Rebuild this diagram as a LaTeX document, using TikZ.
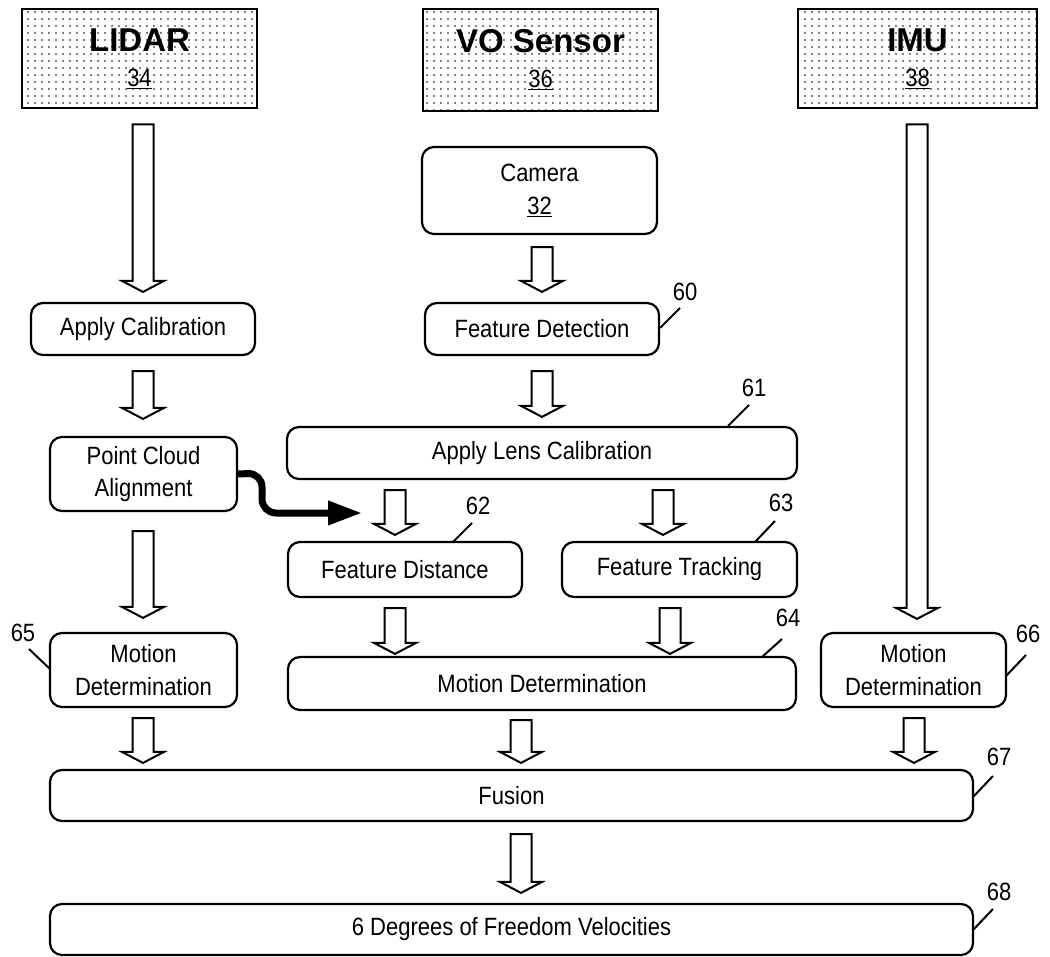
\documentclass[tikz,border=0pt]{standalone}
\usepackage{fontspec}
\setmainfont{Liberation Sans}[FakeStretch=0.88]
\newfontfamily\titlefont{Liberation Sans}
\usetikzlibrary{calc,arrows.meta,patterns.meta}
\newcommand\barrow[5]{%
  \coordinate (bcol) at (#1,0);
  \coordinate (ba1) at ($(#2.south -| bcol)+(0,#3)$);
  \coordinate (ba2) at ($(#4.north -| bcol)+(0,-#5)$);
  \draw[blockarrow] ($(ba1)+(-10.5,0)$) -- ($(ba1)+(10.5,0)$) -- ($(ba2)+(10.5,-11)$) -- ($(ba2)+(21,-11)$) -- (ba2) -- ($(ba2)+(-21,-11)$) -- ($(ba2)+(-10.5,-11)$) -- cycle;}
\begin{document}
\begin{tikzpicture}[x=1pt,y=-1pt,
  box/.style={draw,line width=2.2pt,rounded corners=12pt,inner sep=0pt,align=center,font=\fontsize{25}{32.5}\selectfont},
  sensor/.style={draw,line width=2.8pt,inner sep=0pt,align=center,pattern={Dots[distance=7pt,radius=0.8pt]},font=\fontsize{25}{35}\selectfont},
  blockarrow/.style={draw,line width=2pt,fill=white,line join=miter},
  lbl/.style={font=\fontsize{25}{30}\selectfont,inner sep=0pt},
  leader/.style={line width=2pt},
  ]
\useasboundingbox (0,0) rectangle (1050,957);

% sensors
\node[sensor,minimum width=235pt,minimum height=99pt] (lidar) at (139.5,58.5) {{\titlefont\bfseries\fontsize{33}{34}\selectfont LIDAR}\\\underline{34}};
\node[sensor,minimum width=235pt,minimum height=102pt] (vo) at (540.5,60) {{\titlefont\bfseries\fontsize{33}{34}\selectfont VO Sensor}\\\underline{36}};
\node[sensor,minimum width=239pt,minimum height=99pt] (imu) at (917.5,58.5) {{\titlefont\bfseries\fontsize{33}{34}\selectfont IMU}\\\underline{38}};

% boxes
\node[box,minimum width=235pt,minimum height=87pt] (camera) at (539.5,190.5) {Camera\\\underline{32}};
\node[box,minimum width=224pt,minimum height=52pt] (ac) at (143,329) {Apply Calibration};
\node[box,minimum width=234pt,minimum height=52pt] (fd) at (542,329) {Feature Detection};
\node[box,minimum width=187pt,minimum height=74pt] (pca) at (143.5,474) {Point Cloud\\Alignment};
\node[box,minimum width=510pt,minimum height=52pt] (alc) at (542,453) {Apply Lens Calibration};
\node[box,minimum width=234pt,minimum height=55pt] (fdist) at (405,569.5) {Feature Distance};
\node[box,minimum width=235pt,minimum height=55pt] (ftrack) at (679.5,569.5) {Feature Tracking};
\node[box,minimum width=187pt,minimum height=74pt] (md65) at (143.5,670) {Motion\\Determination};
\node[box,minimum width=508pt,minimum height=53pt] (md64) at (542,683.5) {Motion Determination};
\node[box,minimum width=185pt,minimum height=74pt] (md66) at (913.5,670) {Motion\\Determination};
\node[box,minimum width=923pt,minimum height=51pt] (fusion) at (511.5,795.5) {Fusion};
\node[box,minimum width=923pt,minimum height=51pt] (dof) at (511.5,929.5) {6 Degrees of Freedom Velocities};

% block arrows
\barrow{143}{lidar}{15}{ac}{10}
\barrow{542}{camera}{12}{fd}{10}
\barrow{917}{imu}{15}{md66}{13}
\barrow{143}{ac}{15}{pca}{17}
\barrow{542}{fd}{15}{alc}{9}
\barrow{143}{pca}{19}{md65}{14}
\barrow{395}{alc}{10}{fdist}{6}
\barrow{663}{alc}{10}{ftrack}{6}
\barrow{395}{fdist}{10}{md64}{2}
\barrow{670}{ftrack}{10}{md64}{2}
\barrow{143}{md65}{10}{fusion}{6}
\barrow{521}{md64}{9}{fusion}{6}
\barrow{914}{md66}{10}{fusion}{6}
\barrow{521}{fusion}{12}{dof}{10}

% curved arrow
\coordinate (cend) at (362,513);
\draw[line width=7pt,rounded corners=14pt,-{Triangle[length=34pt,width=23pt]}] (pca.east) -- (262,473) -- (262,513) -- (cend);

% reference labels
\node[lbl] (n60) at (685,292) {60};
\draw[leader] (680,308) -- (660,328);
\node[lbl] (n61) at (754,388) {61};
\draw[leader] (749,405) -- (728,426);
\node[lbl] (n62) at (478,506) {62};
\draw[leader] (472,523) -- (453,542);
\node[lbl] (n63) at (781,503) {63};
\draw[leader] (775,521) -- (755,542);
\node[lbl] (n64) at (788,618) {64};
\draw[leader] (782,639) -- (762,657);
\node[lbl] (n65) at (23,633) {65};
\draw[leader] (29,649) -- (50,669);
\node[lbl] (n66) at (1028,634) {66};
\draw[leader] (1026,655) -- (1006,676);
\node[lbl] (n67) at (999,757) {67};
\draw[leader] (993,776) -- (973,797);
\node[lbl] (n68) at (999,892) {68};
\draw[leader] (993,909) -- (973,930);
\end{tikzpicture}
\end{document}
